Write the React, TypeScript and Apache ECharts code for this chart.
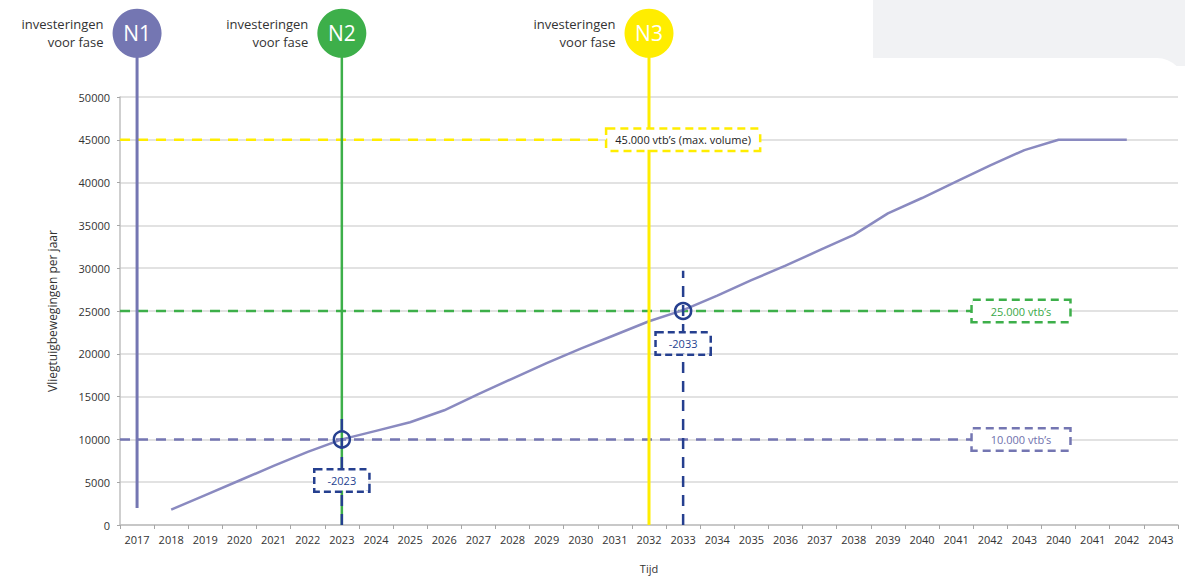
import React, { useEffect, useRef } from "react";
import * as echarts from "echarts";

const categories = [
  "2017", "2018", "2019", "2020", "2021", "2022", "2023", "2024", "2025", "2026",
  "2027", "2028", "2029", "2030", "2031", "2032", "2033", "2034", "2035", "2036",
  "2037", "2038", "2039", "2040", "2041", "2042", "2043", "2040", "2041", "2042", "2043",
];

const volume = [
  null, 1800, 3500, 5200, 6900, 8550, 10000, 11000, 12000, 13400,
  15300, 17100, 18900, 20600, 22200, 23800, 25100, 26800, 28600, 30300,
  32100, 33900, 36400, 38200, 40100, 42000, 43800, 45000, 45000, 45000, null,
];

const yTicks = [0, 5000, 10000, 15000, 20000, 25000, 30000, 35000, 40000, 45000, 50000];

// phase markers: label, category index, line start value, colour
const phaseLabels = ["N1", "N2", "N3"];
const phaseIndex = [0, 6, 15];
const phaseStart = [2000, 0, 0];
const phaseColors = ["#7476b2", "#3daf4a", "#ffed00"];
const phaseTop = 57450;

// thresholds
const thresholdValues = [10000, 25000, 45000];
const thresholdTexts = ["10.000 vtb\u2019s", "25.000 vtb\u2019s", "45.000 vtb\u2019s (max. volume)"];
const thresholdColors = ["#7476b2", "#3daf4a", "#ffed00"];
const thresholdTextColors = ["#6f71ad", "#3aa847", "#222222"];
const thresholdBoxX = [26.4, 26.4, 16.5];

// crossing years
const crossIndex = [6, 16];
const crossValue = [10000, 25000];
const crossTop = [12750, 29700];
const crossBoxValue = [5200, 21200];
const crossTexts = ["-2023", "-2033"];

const NAVY = "#253f8f";
const FONT = "'Open Sans', sans-serif";

export default function App() {
  const ref = useRef<HTMLDivElement>(null);

  useEffect(() => {
    if (!ref.current) return;
    const chart = echarts.init(ref.current, undefined, { renderer: "svg" });

    const series: any[] = [];

    // threshold dashed lines
    thresholdValues.forEach((v, i) => {
      series.push({
        type: "line",
        xAxisIndex: 1,
        yAxisIndex: 0,
        data: [[0, v], [thresholdBoxX[i], v]],
        symbol: "none",
        z: 3,
        lineStyle: { color: thresholdColors[i], width: 2.5, type: [10, 8] },
        silent: true,
      });
    });

    // main volume line
    series.push({
      type: "line",
      xAxisIndex: 0,
      yAxisIndex: 0,
      data: volume,
      symbol: "none",
      z: 4,
      lineStyle: { color: "#8a8ac0", width: 2.5 },
    });

    // phase vertical lines
    phaseLabels.forEach((_, i) => {
      series.push({
        type: "line",
        xAxisIndex: 1,
        yAxisIndex: 0,
        clip: false,
        data: [[phaseIndex[i] + 0.5, phaseStart[i]], [phaseIndex[i] + 0.5, phaseTop]],
        symbol: "none",
        z: 5,
        lineStyle: { color: phaseColors[i], width: i === 1 ? 2.5 : 3 },
      });
    });

    // navy dashed crossing verticals
    crossIndex.forEach((ci, i) => {
      series.push({
        type: "line",
        xAxisIndex: 1,
        yAxisIndex: 0,
        data: [[ci + 0.5, 0], [ci + 0.5, crossTop[i]]],
        symbol: "none",
        z: 6,
        lineStyle: { color: NAVY, width: 2.5, type: [11, 8] },
      });
    });

    // crossing circles
    series.push({
      type: "scatter",
      xAxisIndex: 1,
      yAxisIndex: 0,
      z: 7,
      symbol: "circle",
      symbolSize: 16,
      itemStyle: { color: "rgba(255,255,255,0)", borderColor: NAVY, borderWidth: 2.5, opacity: 1 },
      data: crossIndex.map((ci, i) => [ci + 0.5, crossValue[i]]),
    });

    // crossing year boxes
    series.push({
      type: "scatter",
      xAxisIndex: 1,
      yAxisIndex: 0,
      z: 8,
      symbolSize: 1,
      itemStyle: { color: "rgba(0,0,0,0)", opacity: 1 },
      data: crossIndex.map((ci, i) => ({
        value: [ci + 0.5, crossBoxValue[i]],
        name: crossTexts[i],
      })),
      label: {
        show: true,
        position: "inside",
        formatter: "{b}",
        color: NAVY,
        fontSize: 11,
        fontFamily: FONT,
        backgroundColor: "#ffffff",
        borderColor: NAVY,
        borderWidth: 2.5,
        borderType: [7, 4],
        padding: [3, 12, 3, 12],
        lineHeight: 14,
        opacity: 1,
      },
    });

    // threshold boxes
    series.push({
      type: "scatter",
      xAxisIndex: 1,
      yAxisIndex: 0,
      z: 8,
      symbolSize: 1,
      itemStyle: { color: "rgba(0,0,0,0)", opacity: 1 },
      data: thresholdValues.map((v, i) => ({
        value: [thresholdBoxX[i], v],
        name: thresholdTexts[i],
        label: {
          color: thresholdTextColors[i],
          borderColor: thresholdColors[i],
          padding: i === 2 ? [3, 8, 3, 8] : [3, 18, 3, 18],
        },
      })),
      label: {
        show: true,
        position: "inside",
        formatter: "{b}",
        fontSize: 11,
        fontFamily: FONT,
        backgroundColor: "#ffffff",
        borderWidth: 2.5,
        borderType: [8, 5],
        lineHeight: 14,
        opacity: 1,
      },
    });

    // phase circles
    series.push({
      type: "scatter",
      xAxisIndex: 1,
      yAxisIndex: 0,
      clip: false,
      z: 9,
      symbol: "circle",
      symbolSize: 49,
      data: phaseLabels.map((lab, i) => ({
        value: [phaseIndex[i] + 0.5, phaseTop],
        name: lab,
        itemStyle: { color: phaseColors[i], opacity: 1 },
      })),
      label: {
        show: true,
        position: "inside",
        formatter: "{b}",
        color: "#ffffff",
        fontSize: 21,
        fontFamily: FONT,
        opacity: 1,
      },
    });

    // phase captions
    series.push({
      type: "scatter",
      xAxisIndex: 1,
      yAxisIndex: 0,
      clip: false,
      z: 9,
      symbol: "circle",
      symbolSize: 49,
      itemStyle: { color: "rgba(0,0,0,0)", opacity: 1 },
      data: phaseLabels.map((lab, i) => ({
        value: [phaseIndex[i] + 0.5, phaseTop],
        name: "investeringen\nvoor fase",
      })),
      label: {
        show: true,
        position: "left",
        distance: 9,
        align: "right",
        formatter: "{b}",
        color: "#333333",
        fontSize: 13,
        lineHeight: 18,
        fontFamily: FONT,
        opacity: 1,
      },
    });

    chart.setOption({
      animation: false,
      textStyle: { fontFamily: FONT },
      graphic: [
        {
          type: "rect",
          z: -100,
          silent: true,
          shape: { x: 873, y: 0, width: 312, height: 66 },
          style: { fill: "#f1f2f4" },
        },
        {
          type: "rect",
          z: -99,
          silent: true,
          shape: { x: 873, y: 58, width: 312, height: 30, r: [0, 28, 0, 0] },
          style: { fill: "#ffffff" },
        },
      ],
      grid: { left: 120, right: 7, top: 97, bottom: 42, containLabel: false },
      xAxis: [
        {
          type: "category",
          data: categories,
          boundaryGap: true,
          name: "Tijd",
          nameLocation: "middle",
          nameGap: 38,
          nameTextStyle: { color: "#333", fontSize: 11, fontFamily: FONT },
          axisLine: { show: true, lineStyle: { color: "#bfbfbf", width: 1.5 } },
          axisTick: { show: true, alignWithLabel: false, length: 4, lineStyle: { color: "#a6a6a6" } },
          axisLabel: { interval: 0, color: "#333", fontSize: 11, margin: 9, fontFamily: FONT },
          splitLine: { show: false },
        },
        {
          type: "value",
          min: 0,
          max: categories.length,
          show: false,
          splitLine: { show: false },
        },
      ],
      yAxis: [
        {
          type: "value",
          min: yTicks[0],
          max: yTicks[yTicks.length - 1],
          interval: yTicks[1] - yTicks[0],
          name: "Vliegtuigbewegingen per jaar",
          nameLocation: "middle",
          nameGap: 62,
          nameTextStyle: { color: "#333", fontSize: 12, fontFamily: FONT },
          axisLine: { show: true, lineStyle: { color: "#bfbfbf", width: 1.5 } },
          axisTick: { show: true, length: 3, lineStyle: { color: "#a6a6a6" } },
          axisLabel: {
            color: "#333",
            fontSize: 11,
            margin: 10,
            fontFamily: FONT,
            formatter: (v: number) => String(v),
          },
          splitLine: { show: true, lineStyle: { color: "#d9d9d9", width: 1.5 } },
        },
      ],
      series,
    });

    return () => chart.dispose();
  }, []);

  return (
    <div
      ref={ref}
      style={{ position: "fixed", left: 0, top: 0, width: 1185, height: 579, background: "#ffffff" }}
    />
  );
}
